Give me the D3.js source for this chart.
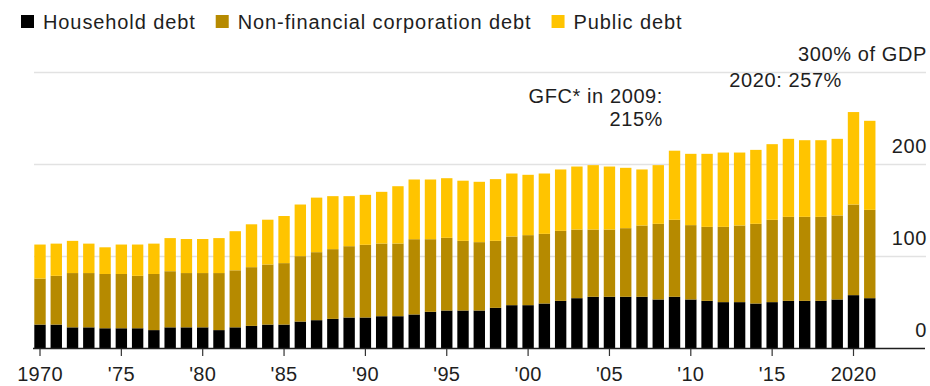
<!DOCTYPE html>
<html>
<head>
<meta charset="utf-8">
<script src="https://cdn.jsdelivr.net/npm/d3@7"></script>
<style>
  html, body { margin: 0; padding: 0; background: #fff; }
  svg { display: block; }
  text { font-family: "Liberation Sans", Arial, Helvetica, sans-serif; fill: #1e1e1e; }
</style>
</head>
<body>
<svg id="chart" width="930" height="386"></svg>
<script>
// Debt by sector, % of GDP, 1970-2021
const years = d3.range(1970, 2022);

const household = [
  26, 26, 23, 23, 22, 22, 22, 20, 23, 23,
  23, 20, 23, 24.6, 26, 26, 29.3, 30.8, 32.2, 33.7,
  33.7, 35.1, 35.1, 37, 39.9, 41.3, 41.3, 41.3, 44.2, 47.1,
  47.1, 48.9, 51.8, 54.7, 56.2, 56.2, 56.2, 56.2, 53.3, 56.2,
  53.3, 51.8, 50.4, 50.4, 48.9, 50.4, 51.8, 51.8, 51.8, 53.3,
  58, 54.7
];

const nonFinancialCorp = [
  50, 53, 59, 59, 59, 59, 57, 61, 61, 59,
  59, 62, 62, 63.8, 65.3, 66.8, 71.1, 73.9, 75.8, 77.5,
  79, 79, 79, 81.8, 78.9, 79, 75.7, 74.3, 72.8, 74.6,
  76.1, 75.7, 76.1, 74.6, 73.1, 73.1, 74.6, 77.5, 82.2, 83.7,
  80.8, 80.4, 81.8, 83.3, 86.6, 89.5, 91.3, 91.3, 91.3, 91.3,
  98.5, 96
];

const publicDebt = [
  37, 35, 35, 32, 29, 32, 34, 33, 36, 37,
  37, 38, 42.5, 46.6, 48.7, 51.2, 56.1, 59.3, 57.6, 54.4,
  54.3, 56.2, 62.3, 64.9, 64.9, 64.8, 65.4, 65.6, 67.1, 68.5,
  65.6, 65.6, 66.7, 68.5, 70, 68.5, 65.6, 60.9, 63.8, 75.1,
  77.5, 79.4, 80.8, 79.3, 80.4, 82.2, 84.8, 83.3, 83.3, 83.3,
  100.5, 96.8
];

const seriesKeys = ["household", "corporate", "public"];
const seriesNames = ["Household debt", "Non-financial corporation debt", "Public debt"];
const seriesColors = ["#000000", "#b68a00", "#ffc400"];

const yTicks = [0, 100, 200, 300];
const xTicks = [1970, 1975, 1980, 1985, 1990, 1995, 2000, 2005, 2010, 2015, 2020];

const notes = [
  { lines: ["GFC* in 2009:", "215%"], x: 663, y: 103 },
  { lines: ["2020: 257%"], x: 842, y: 87 }
];

const rows = years.map((yr, i) => ({
  year: yr,
  household: household[i],
  corporate: nonFinancialCorp[i],
  public: publicDebt[i]
}));

const svg = d3.select("#chart");

const plotLeft = 34, plotRight = 926;
const step = 16.27;
const firstCenter = 40;

const x = d3.scaleBand()
  .domain(years)
  .range([firstCenter - step / 2, firstCenter - step / 2 + step * years.length])
  .paddingInner(0.3)
  .paddingOuter(0.15);

const y = d3.scaleLinear().domain([0, 300]).range([348.5, 72.5]);

// Gridlines
svg.append("g")
  .selectAll("line")
  .data(yTicks.filter(d => d > 0))
  .join("line")
  .attr("x1", plotLeft).attr("x2", plotRight)
  .attr("y1", d => y(d)).attr("y2", d => y(d))
  .attr("stroke", "#e2e2e2")
  .attr("stroke-width", 1.5);

// Stacked bars
const stack = d3.stack().keys(seriesKeys)(rows);
const color = d3.scaleOrdinal().domain(seriesKeys).range(seriesColors);

svg.append("g")
  .selectAll("g")
  .data(stack)
  .join("g")
  .attr("fill", d => color(d.key))
  .selectAll("rect")
  .data(d => d)
  .join("rect")
  .attr("x", d => x(d.data.year))
  .attr("width", x.bandwidth())
  .attr("y", d => y(d[1]))
  .attr("height", d => y(d[0]) - y(d[1]));

// Baseline
svg.append("line")
  .attr("x1", plotLeft - 1).attr("x2", plotRight - 1)
  .attr("y1", y(0)).attr("y2", y(0))
  .attr("stroke", "#1e1e1e")
  .attr("stroke-width", 1.6);

// Bottom axis
const fmtYear = d => (d === 1970 || d === 2020) ? String(d) : "'" + String(d).slice(2);
const xAxis = d3.axisBottom(x)
  .tickValues(xTicks)
  .tickSize(7)
  .tickPadding(11)
  .tickFormat(fmtYear);

const gx = svg.append("g")
  .attr("transform", `translate(0,${y(0) + 0.5})`)
  .call(xAxis);
gx.select(".domain").remove();
gx.selectAll(".tick line").attr("stroke", "#333").attr("stroke-width", 1.2);
gx.selectAll(".tick text")
  .attr("fill", "#1e1e1e")
  .style("font-family", '"Liberation Sans", Arial, sans-serif')
  .style("font-size", "20px")
  .style("letter-spacing", "0.3px");

// Right-hand value labels, sitting above each gridline
svg.append("g")
  .selectAll("text")
  .data(yTicks)
  .join("text")
  .attr("x", plotRight + 1)
  .attr("y", d => y(d) - 12)
  .attr("text-anchor", "end")
  .style("font-size", "20px")
  .style("letter-spacing", "0.6px")
  .text(d => d === 300 ? "300% of GDP" : String(d));

// Annotations
notes.forEach(n => {
  const t = svg.append("text")
    .attr("text-anchor", "end")
    .style("font-size", "20px")
    .style("letter-spacing", "0.6px");
  n.lines.forEach((ln, i) => {
    t.append("tspan").attr("x", n.x).attr("y", n.y + i * 23).text(ln);
  });
});

// Legend
const legend = svg.append("g");
let lx = 21;
seriesNames.forEach((name, i) => {
  legend.append("rect")
    .attr("x", lx).attr("y", 15)
    .attr("width", 13).attr("height", 13)
    .attr("fill", seriesColors[i]);
  const t = legend.append("text")
    .attr("x", lx + 22).attr("y", 28.5)
    .style("font-size", "20px")
    .style("letter-spacing", "0.9px")
    .text(name);
  lx += 22 + t.node().getComputedTextLength() + 20;
});
</script>
</body>
</html>
